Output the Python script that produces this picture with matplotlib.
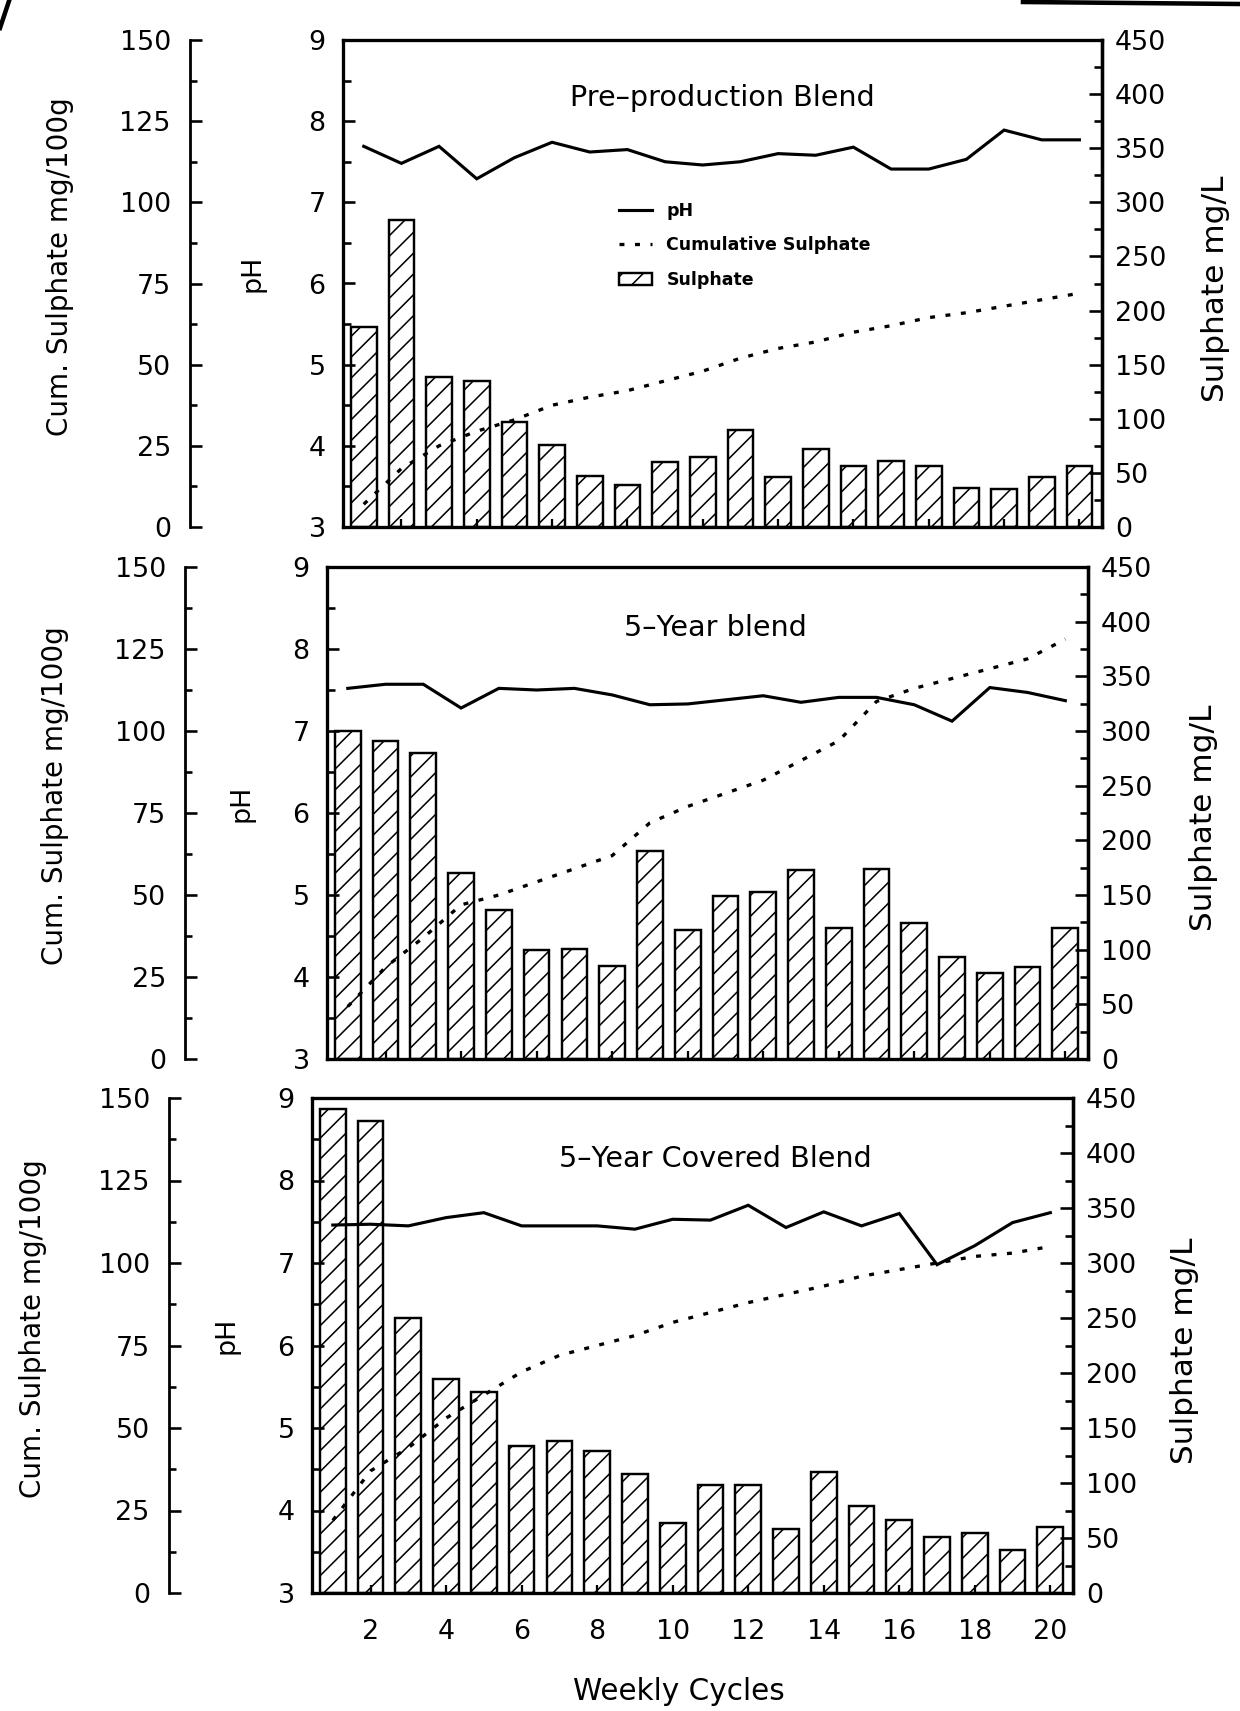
import matplotlib
matplotlib.use("Agg")
import matplotlib.pyplot as plt
from matplotlib.ticker import MultipleLocator, FixedLocator
from matplotlib.lines import Line2D
from matplotlib.patches import Patch

# ---- data -------------------------------------------------------------
cycles = list(range(1, 21))
x_ticks = list(range(2, 21, 2))

titles = ["Pre–production Blend", "5–Year blend", "5–Year Covered Blend"]

pre_ph = [7.69, 7.48, 7.69, 7.29, 7.55, 7.74, 7.62, 7.65, 7.50, 7.46,
          7.50, 7.60, 7.58, 7.68, 7.41, 7.41, 7.53, 7.89, 7.77, 7.77]
pre_sulphate = [185, 284, 139, 135, 97, 76, 47, 39, 60, 65,
                90, 46, 72, 56, 61, 56, 36, 35, 46, 56]
pre_cum = [7, 18, 25, 29.5, 33, 37.5, 40, 42, 45, 48,
           52, 55, 57, 60, 62, 64.5, 66, 68, 70, 72]

five_ph = [7.52, 7.57, 7.57, 7.28, 7.52, 7.50, 7.52, 7.44, 7.32, 7.33,
           7.38, 7.43, 7.35, 7.41, 7.41, 7.32, 7.12, 7.53, 7.47, 7.37]
five_sulphate = [300, 291, 280, 170, 136, 100, 101, 85, 190, 118,
                 149, 153, 173, 120, 174, 124, 93, 79, 84, 120]
five_cum = [16, 28, 37, 47, 50, 54, 58, 62, 72, 77,
            81, 85, 91, 97, 109, 113, 116, 119, 122, 128]

cov_ph = [7.46, 7.47, 7.45, 7.55, 7.61, 7.45, 7.45, 7.45, 7.41, 7.53,
          7.52, 7.70, 7.43, 7.62, 7.45, 7.60, 6.98, 7.21, 7.49, 7.61]
cov_sulphate = [440, 429, 250, 195, 183, 134, 138, 129, 108, 64,
                98, 98, 58, 110, 79, 66, 51, 55, 39, 60]
cov_cum = [22, 37, 44, 53, 60, 67, 72, 75, 78, 82,
           85, 88, 90.5, 93, 96, 98, 100, 102, 103, 105]

legend_labels = ["pH", "Cumulative Sulphate", "Sulphate"]

# ---- figure -----------------------------------------------------------
W, H, DPI = 1240, 1711, 125
fig = plt.figure(figsize=(W / DPI, H / DPI), dpi=DPI, facecolor="white")
plt.rcParams["hatch.linewidth"] = 0.9
plt.rcParams["font.family"] = ["DejaVu Sans"]

DOTS = (0, (1.5, 3.2))


def rect(left, top, right, bottom):
    return [left / W, 1 - bottom / H, (right - left) / W, (bottom - top) / H]


def draw_panel(box, cum_spine, cum_label_x, ph_label_x, r_label_x, title,
               title_xy, ph, sulphate, cum, xlabels=False, legend=False):
    ax = fig.add_axes(rect(*box))
    axb = ax.twinx()
    axc = ax.twinx()
    axb.set_zorder(1)
    ax.set_zorder(2)
    axc.set_zorder(3)
    for a in (ax, axb, axc):
        a.patch.set_visible(False)

    # weekly sulphate bars (right axis)
    axb.bar(cycles, sulphate, width=0.68, facecolor="white",
            edgecolor="black", hatch="//", linewidth=1.4)
    # pH line (inner left axis)
    ax.plot(cycles, ph, color="black", lw=1.8, solid_joinstyle="miter")
    # cumulative sulphate (outer left axis)
    axc.plot(cycles, cum, color="black", lw=1.9, ls=DOTS)

    ax.set_xlim(0.45, 20.6)
    ax.set_ylim(3, 9)
    axb.set_ylim(0, 450)
    axc.set_ylim(0, 150)

    # spines
    for s in ax.spines.values():
        s.set_linewidth(1.9)
    for k, s in axb.spines.items():
        s.set_visible(k == "right")
        s.set_linewidth(1.9)
    for k, s in axc.spines.items():
        s.set_visible(k == "left")
        s.set_linewidth(1.6)
    axc.spines["left"].set_position(("axes", cum_spine))

    # pH axis
    ax.yaxis.set_major_locator(MultipleLocator(1))
    ax.yaxis.set_minor_locator(MultipleLocator(0.5))
    ax.tick_params(axis="y", which="major", direction="in", length=7,
                   width=1.5, labelsize=15.5, pad=10, left=True, right=False)
    ax.tick_params(axis="y", which="minor", direction="in", length=4.5,
                   width=1.5, left=True, right=False)
    ax.xaxis.set_major_locator(FixedLocator(x_ticks))
    ax.tick_params(axis="x", which="major", direction="in", length=4.5,
                   width=1.3, labelsize=15.5, pad=15, top=False,
                   labelbottom=xlabels)
    ax.set_ylabel("pH", fontsize=15.5)
    ax.yaxis.set_label_coords(ph_label_x, 0.52)
    ax.yaxis.label.set_va("center")

    # sulphate axis (right)
    axb.yaxis.set_major_locator(MultipleLocator(50))
    axb.yaxis.set_minor_locator(MultipleLocator(25))
    axb.tick_params(axis="y", which="major", direction="in", length=7.5,
                    width=1.5, labelsize=15.5, pad=7.5)
    axb.tick_params(axis="y", which="minor", direction="in", length=4.5,
                    width=1.5)
    axb.set_ylabel("Sulphate mg/L", fontsize=18)
    axb.yaxis.set_label_coords(r_label_x, 0.49)
    axb.yaxis.label.set_va("center")

    # cumulative axis (outer left)
    axc.yaxis.set_ticks_position("left")
    axc.yaxis.set_label_position("left")
    axc.yaxis.set_major_locator(MultipleLocator(25))
    axc.yaxis.set_minor_locator(MultipleLocator(12.5))
    axc.tick_params(axis="y", which="major", direction="in", length=7,
                    width=1.5, labelsize=15.5, pad=11)
    axc.tick_params(axis="y", which="minor", direction="in", length=4,
                    width=1.5)
    axc.set_ylabel("Cum. Sulphate mg/100g", fontsize=16)
    axc.yaxis.set_label_coords(cum_label_x, 0.535)
    axc.yaxis.label.set_va("center")

    ax.text(title_xy[0], title_xy[1], title, transform=ax.transAxes,
            ha="center", va="center", fontsize=16.5)

    if legend:
        handles = [Line2D([], [], color="black", lw=1.8),
                   Line2D([], [], color="black", lw=1.9, ls=DOTS),
                   Patch(facecolor="white", edgecolor="black", hatch="//",
                         lw=1.4)]
        axc.legend(handles, legend_labels, loc="upper left",
                   bbox_to_anchor=(0.355, 0.682), frameon=False,
                   prop={"weight": "bold", "size": 10}, handlelength=1.9,
                   handletextpad=0.8, labelspacing=0.95, borderaxespad=0)
    return ax


draw_panel((343, 40, 1102, 527), -0.2016, -0.373, -0.119, 1.149,
           titles[0], (0.50, 0.881), pre_ph, pre_sulphate, pre_cum,
           legend=True)
draw_panel((327, 567, 1088, 1059), -0.1866, -0.357, -0.112, 1.152,
           titles[1], (0.51, 0.876), five_ph, five_sulphate, five_cum)
draw_panel((312, 1098, 1073, 1593), -0.188, -0.367, -0.113, 1.146,
           titles[2], (0.53, 0.877), cov_ph, cov_sulphate, cov_cum,
           xlabels=True)

fig.text(679 / W, 1 - 1692 / H, "Weekly Cycles", ha="center", va="center",
         fontsize=17)

# dark edges along the top of the sheet
fig.add_artist(Line2D([1023 / W, 1.0], [1 - 2 / H, 1 - 4 / H],
                      transform=fig.transFigure, color="black", lw=2.6))
fig.add_artist(Line2D([0.0, 9 / W], [1 - 28 / H, 1 - 1 / H],
                      transform=fig.transFigure, color="black", lw=2.6))

fig.savefig("out.png", dpi=DPI, facecolor="white")
